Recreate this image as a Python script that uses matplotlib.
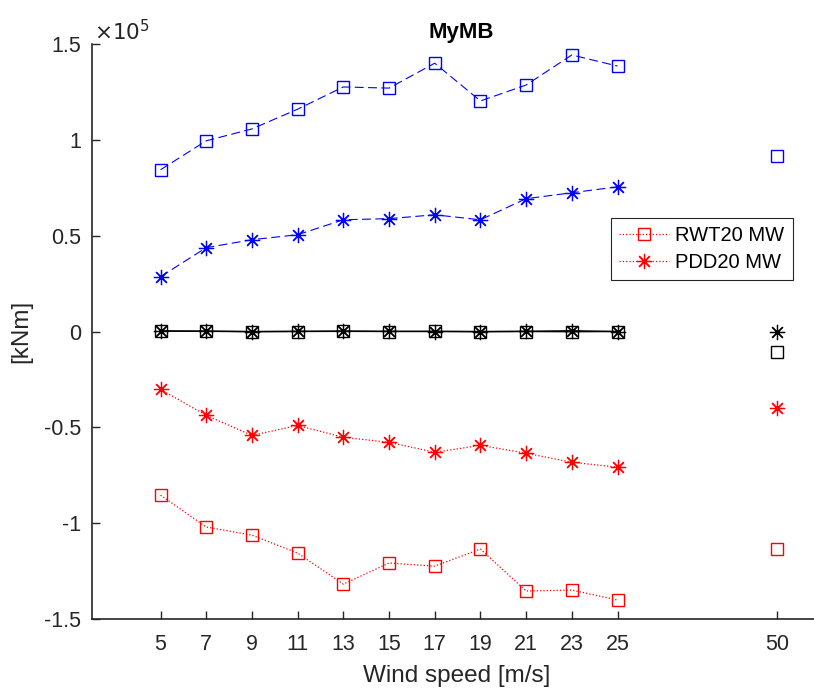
import numpy as np
import matplotlib.pyplot as plt

plt.rcParams['font.family'] = ['Liberation Sans', 'DejaVu Sans']

# wind speeds; the 50 m/s case is drawn at x = 32 on the axis
wind = [5, 7, 9, 11, 13, 15, 17, 19, 21, 23, 25]
wind_labels = ['5', '7', '9', '11', '13', '15', '17', '19', '21', '23', '25', '50']
x50 = 32

# max / min / mean bending moment [1e5 kNm]
rwt_max = [0.844, 0.995, 1.057, 1.16, 1.276, 1.27, 1.40, 1.203, 1.286, 1.443, 1.385]
pdd_max = [0.286, 0.4375, 0.479, 0.505, 0.583, 0.589, 0.609, 0.583, 0.693, 0.724, 0.755]
pdd_min = [-0.302, -0.4375, -0.542, -0.49, -0.552, -0.578, -0.63, -0.594, -0.635, -0.682, -0.708]
rwt_min = [-0.854, -1.02, -1.0625, -1.156, -1.318, -1.208, -1.224, -1.135, -1.354, -1.349, -1.401]
rwt_mean = [0.002, 0.001, -0.001, 0.0, 0.001, 0.0, 0.001, -0.001, 0.0, -0.001, 0.0]
pdd_mean = [0.003, 0.002, 0.0, 0.001, 0.002, 0.001, 0.0, 0.0, 0.001, 0.004, 0.0]

rwt_max_50 = 0.917
rwt_min_50 = -1.135
pdd_min_50 = -0.401
rwt_mean_50 = -0.107
pdd_mean_50 = -0.005

scale = 1e5
to_knm = lambda v: np.array(v) * scale

fig = plt.figure(figsize=(8.14, 6.89), dpi=100)
ax = fig.add_axes([0.113, 0.1016, 0.887, 0.8345])

ms = 8
star = (8, 2, 0)  # matlab style asterisk
ms_star = 11
mew_star = 0.9
dash = (0, (8, 4))
ax.plot(wind, to_knm(rwt_max), color='blue', ls=dash, lw=0.8, marker='s', ms=ms, mfc='none')
ax.plot(wind, to_knm(pdd_max), color='blue', ls=dash, lw=0.8, marker=star, ms=ms_star, mew=mew_star)
ax.plot(wind, to_knm(rwt_mean), color='black', ls='-', lw=1.0, marker='s', ms=ms, mfc='none')
ax.plot(wind, to_knm(pdd_mean), color='black', ls='-', lw=1.0, marker=star, ms=ms_star, mew=mew_star)
l1, = ax.plot(wind, to_knm(rwt_min), color='red', ls=':', lw=0.9, marker='s', ms=ms, mfc='none')
l2, = ax.plot(wind, to_knm(pdd_min), color='red', ls=':', lw=0.9, marker=star, ms=ms_star, mew=mew_star)

# 50 m/s points
ax.plot([x50], [rwt_max_50 * scale], color='blue', marker='s', ms=ms, mfc='none', lw=0)
ax.plot([x50], [rwt_mean_50 * scale], color='black', marker='s', ms=ms, mfc='none', lw=0)
ax.plot([x50], [pdd_mean_50 * scale], color='black', marker=star, ms=ms_star, mew=mew_star, lw=0)
ax.plot([x50], [pdd_min_50 * scale], color='red', marker=star, ms=ms_star, mew=mew_star, lw=0)
ax.plot([x50], [rwt_min_50 * scale], color='red', marker='s', ms=ms, mfc='none', lw=0)

ax.set_xlim(2, 33.6)
ax.set_ylim(-1.5e5, 1.5e5)
ax.set_xticks(wind + [x50])
ax.set_xticklabels(wind_labels)
yt = np.arange(-1.5, 1.51, 0.5)
ax.set_yticks(yt * scale)
ax.set_yticklabels(['-1.5', '-1', '-0.5', '0', '0.5', '1', '1.5'])

ax.spines['top'].set_visible(False)
ax.spines['right'].set_visible(False)
for s in ['left', 'bottom']:
    ax.spines[s].set_linewidth(1.2)
    ax.spines[s].set_color('#262626')
ax.tick_params(direction='in', length=6, width=1.0, labelsize=15.5, colors='#262626')
ax.tick_params(axis='x', pad=11)
ax.tick_params(axis='y', pad=8)

title = ax.set_title('MyMB', fontsize=16, fontweight='bold', pad=4)
title.set_x(0.512)
ax.set_xlabel('Wind speed [m/s]', fontsize=17.5, color='#262626')
ax.set_ylabel('[kNm]', fontsize=17.5, color='#262626')
ax.xaxis.set_label_coords(0.505, -0.08)
ax.yaxis.set_label_coords(-0.083, 0.5)
fig.text(0.116, 0.941, r'$\times10^{5}$', fontsize=15.5, color='#262626')

leg = ax.legend([l1, l2], ['RWT20 MW', 'PDD20 MW'], loc='upper left',
                bbox_to_anchor=(611 / 814, 1 - 218 / 689), bbox_transform=fig.transFigure,
                fontsize=14.5, fancybox=False, edgecolor='#262626', framealpha=1,
                handlelength=2.5, handletextpad=0.3, borderpad=0.4, labelspacing=0.4,
                borderaxespad=0)
leg.get_frame().set_linewidth(0.8)

fig.savefig('out.png', dpi=100)
